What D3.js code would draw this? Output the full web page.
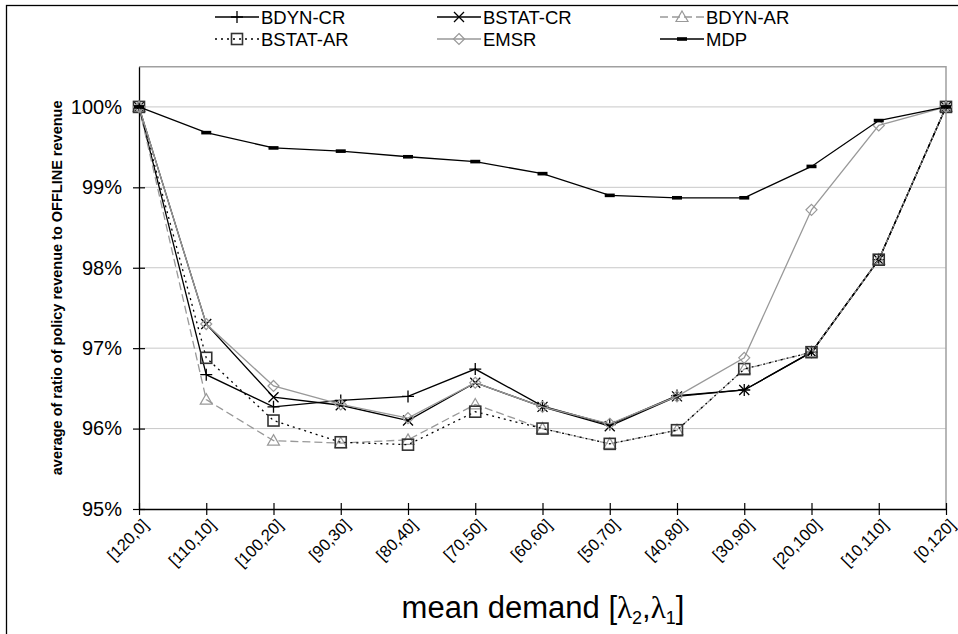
<!DOCTYPE html>
<html>
<head>
<meta charset="utf-8">
<script src="https://cdn.jsdelivr.net/npm/d3@7"></script>
<style>
  body { margin: 0; background: #fff; }
  svg { display: block; font-family: "Liberation Sans", Arial, sans-serif; }
</style>
</head>
<body>
<div id="chart"></div>
<script>
// categories on the x axis: mean demand [lambda2, lambda1]
var categories = ['[120,0]', '[110,10]', '[100,20]', '[90,30]', '[80,40]', '[70,50]', '[60,60]',
  '[50,70]', '[40,80]', '[30,90]', '[20,100]', '[10,110]', '[0,120]'];

// average ratio of policy revenue to OFFLINE revenue, in %
var bdynCr  = [100, 96.67, 96.27, 96.35, 96.40, 96.74, 96.28, 96.05, 96.41, 96.48, 96.95, 98.10, 100];
var bstatCr = [100, 97.30, 96.39, 96.29, 96.10, 96.57, 96.27, 96.03, 96.40, 96.48, 96.95, 98.10, 100];
var bdynAr  = [100, 96.36, 95.85, 95.82, 95.86, 96.30, 96.00, 95.81, 95.98, 96.74, 96.95, 98.10, 100];
var bstatAr = [100, 96.88, 96.10, 95.83, 95.80, 96.21, 96.00, 95.81, 95.98, 96.74, 96.95, 98.10, 100];
var emsr    = [100, 97.30, 96.53, 96.30, 96.13, 96.57, 96.27, 96.06, 96.40, 96.88, 98.72, 99.77, 100];
var mdp     = [100, 99.68, 99.49, 99.45, 99.38, 99.32, 99.17, 98.90, 98.87, 98.87, 99.26, 99.83, 100];

var seriesNames = ['BDYN-CR', 'BSTAT-CR', 'BDYN-AR', 'BSTAT-AR', 'EMSR', 'MDP'];
var yTicks = [95, 96, 97, 98, 99, 100];

// look of each series (line colour, dash, marker)
var styles = {
  'BDYN-CR':  {color: '#000', dash: null, marker: 'plus'},
  'BSTAT-CR': {color: '#000', dash: null, marker: 'cross'},
  'BDYN-AR':  {color: '#999', dash: '8,4', marker: 'triangle'},
  'BSTAT-AR': {color: '#000', dash: '2,4', marker: 'square'},
  'EMSR':     {color: '#999', dash: null, marker: 'diamond'},
  'MDP':      {color: '#000', dash: null, marker: 'bar'}
};

var seriesValues = [bdynCr, bstatCr, bdynAr, bstatAr, emsr, mdp];
var series = seriesNames.map(function (name, i) {
  return {name: name, values: seriesValues[i]};
});

var width = 958, height = 634;
var plot = {left: 139, right: 946, top: 66.7, bottom: 509};

var svg = d3.select('#chart').append('svg')
  .attr('width', width)
  .attr('height', height);

// outer frame (only top and left edge are visible)
svg.append('rect')
  .attr('x', 6.5).attr('y', 5.5)
  .attr('width', 2000).attr('height', 2000)
  .attr('fill', 'none').attr('stroke', '#000').attr('stroke-width', 1.3);

var x = d3.scalePoint().domain(categories).range([plot.left, plot.right]);
var y = d3.scaleLinear().domain([95, 100.5]).range([plot.bottom, plot.top]);

// gridlines
svg.append('g').selectAll('line')
  .data(yTicks.filter(function (d) { return d > 95; }))
  .join('line')
  .attr('x1', plot.left).attr('x2', plot.right)
  .attr('y1', function (d) { return y(d); })
  .attr('y2', function (d) { return y(d); })
  .attr('stroke', '#c8c8c8').attr('stroke-width', 1);

// plot border, top and right in grey
svg.append('path')
  .attr('d', 'M' + plot.left + ',' + plot.top + 'H' + plot.right + 'V' + plot.bottom)
  .attr('fill', 'none').attr('stroke', '#a0a0a0').attr('stroke-width', 1.5);

// y axis
var yAxis = svg.append('g')
  .attr('transform', 'translate(' + plot.left + ',0)')
  .call(d3.axisLeft(y).tickValues(yTicks).tickSize(6).tickSizeOuter(0)
    .tickFormat(function (d) { return d + '%'; }));
yAxis.select('.domain').attr('stroke', '#000').attr('stroke-width', 1.3);
yAxis.selectAll('.tick line').attr('x2', 6).attr('x1', -6).attr('stroke-width', 1.2);
yAxis.selectAll('.tick text')
  .attr('x', -17)
  .attr('font-size', 20)
  .attr('font-family', '"Liberation Sans", Arial, sans-serif')
  .attr('fill', '#000');

// x axis
var xAxis = svg.append('g')
  .attr('transform', 'translate(0,' + plot.bottom + ')')
  .call(d3.axisBottom(x).tickSize(6).tickSizeOuter(0));
xAxis.select('.domain').attr('stroke', '#000').attr('stroke-width', 1.3);
xAxis.selectAll('.tick line').attr('y1', -6).attr('y2', 6).attr('stroke-width', 1.2);
xAxis.selectAll('.tick text')
  .attr('text-anchor', 'end')
  .attr('font-size', 16.5)
  .attr('font-family', '"Liberation Sans", Arial, sans-serif')
  .attr('fill', '#000')
  .attr('y', 0).attr('dy', '0.35em')
  .attr('transform', 'translate(6,13) rotate(-45)');

// marker shapes
function drawMarker(g, kind, color) {
  if (kind === 'plus') {
    g.append('path').attr('d', 'M-6,0H6M0,-6V6')
      .attr('stroke', color).attr('stroke-width', 1.3).attr('fill', 'none');
  } else if (kind === 'cross') {
    g.append('path').attr('d', 'M-5,-5L5,5M-5,5L5,-5')
      .attr('stroke', color).attr('stroke-width', 1.3).attr('fill', 'none');
  } else if (kind === 'triangle') {
    g.append('path').attr('d', 'M0,-6L6,4.5H-6Z')
      .attr('stroke', color).attr('stroke-width', 1.2).attr('fill', 'none');
  } else if (kind === 'square') {
    g.append('rect').attr('x', -5.5).attr('y', -5.5).attr('width', 11).attr('height', 11)
      .attr('stroke', '#333').attr('stroke-width', 1.6).attr('fill', 'none');
  } else if (kind === 'diamond') {
    g.append('path').attr('d', 'M0,-5.5L5.5,0L0,5.5L-5.5,0Z')
      .attr('stroke', color).attr('stroke-width', 1.2).attr('fill', 'none');
  } else if (kind === 'bar') {
    g.append('rect').attr('x', -5).attr('y', -1.8).attr('width', 10).attr('height', 3.6)
      .attr('fill', color);
  }
}

var line = d3.line()
  .x(function (d, i) { return x(categories[i]); })
  .y(function (d) { return y(d); });

series.forEach(function (s) {
  var st = styles[s.name];
  var g = svg.append('g').attr('class', 'series');
  g.append('path')
    .datum(s.values)
    .attr('d', line)
    .attr('fill', 'none')
    .attr('stroke', st.color)
    .attr('stroke-width', 1.3)
    .attr('stroke-dasharray', st.dash);
  g.selectAll('.mark')
    .data(s.values)
    .join('g')
    .attr('class', 'mark')
    .attr('transform', function (d, i) {
      return 'translate(' + x(categories[i]) + ',' + y(d) + ')';
    })
    .each(function () { drawMarker(d3.select(this), st.marker, st.color); });
});

// legend: 3 columns, 2 rows
var legendCols = [215, 437, 660];
var legendRows = [17, 39];
var legend = svg.append('g').attr('class', 'legend');
series.forEach(function (s, i) {
  var st = styles[s.name];
  var lx = legendCols[i % 3], ly = legendRows[Math.floor(i / 3)];
  var item = legend.append('g');
  item.append('line')
    .attr('x1', lx).attr('x2', lx + 44).attr('y1', ly).attr('y2', ly)
    .attr('stroke', st.color).attr('stroke-width', 1.3)
    .attr('stroke-dasharray', st.dash);
  drawMarker(item.append('g').attr('transform', 'translate(' + (lx + 22) + ',' + ly + ')'),
    st.marker, st.color);
  item.append('text')
    .attr('x', lx + 46).attr('y', ly)
    .attr('dy', '0.36em')
    .attr('font-size', 18.5)
    .text(s.name);
});

// axis titles
svg.append('text')
  .attr('transform', 'translate(62,' + ((plot.top + plot.bottom) / 2) + ') rotate(-90)')
  .attr('text-anchor', 'middle')
  .attr('font-size', 14.5)
  .attr('font-weight', 'bold')
  .text('average of ratio of policy revenue to OFFLINE revenue');

var xTitle = svg.append('text')
  .attr('x', 543)
  .attr('y', 618)
  .attr('text-anchor', 'middle')
  .attr('font-size', 31);
xTitle.append('tspan').text('mean demand [');
xTitle.append('tspan').attr('font-family', '"Liberation Serif", serif').text('λ');
xTitle.append('tspan').attr('font-size', 18).attr('dy', 6).text('2');
xTitle.append('tspan').attr('dy', -6).text(',');
xTitle.append('tspan').attr('font-family', '"Liberation Serif", serif').text('λ');
xTitle.append('tspan').attr('font-size', 18).attr('dy', 6).text('1');
xTitle.append('tspan').attr('dy', -6).text(']');
</script>
</body>
</html>
